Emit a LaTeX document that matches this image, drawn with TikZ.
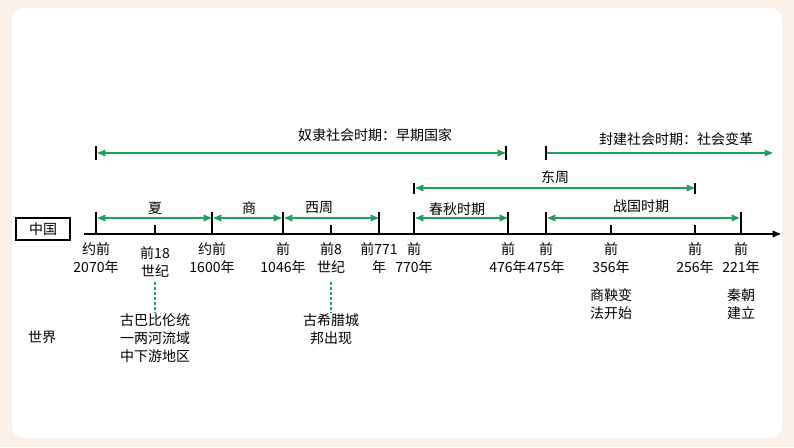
\documentclass[tikz,border=0pt]{standalone}
\usepackage{fontspec}
\setmainfont{Noto Sans CJK SC}
\usetikzlibrary{arrows}
\definecolor{bggray}{RGB}{250,240,232}
\definecolor{linegreen}{RGB}{30,160,90}
\begin{document}
\begin{tikzpicture}[x=1pt,y=-1pt,font=\fontsize{14}{18}\selectfont,
    span/.style={linegreen,line width=1.6pt,>=stealth',<->},
    tick/.style={line width=1.6pt},
    lbl/.style={align=center,inner sep=0pt}]
        % Frame
        \fill [bggray] (0,0) rectangle (794,447);
        \fill [white,rounded corners=12pt] (12,8) rectangle (782,438);

        % Axis
        \draw [tick,-stealth'] (84,234) -- (780,234);
        \foreach \x in {96,212,283,379,414,508,546,741}
            \draw [tick] (\x,212) -- (\x,234);
        \foreach \x in {155,331,611,695}
            \draw [tick] (\x,225) -- (\x,234);
        \node [draw,line width=1.4pt,minimum width=54pt,minimum height=22pt] (cn) at (43,229) {中国};
        \node (world) at (42,337) {世界};

        % Periods
        \draw [span] (98,218) -- (211,218);
        \draw [span] (214,218) -- (281,218);
        \draw [span] (285,218) -- (378,218);
        \draw [span] (416,218) -- (507,218);
        \draw [span] (548,218) -- (739,218);
        \node (xia) at (155,208) {夏};
        \node (shang) at (249,208) {商};
        \node (xizhou) at (319,208) {西周};
        \node (chunqiu) at (457,209) {春秋时期};
        \node (zhanguo) at (641,206) {战国时期};

        \draw [tick] (414,183) -- (414,194);
        \draw [tick] (695,183) -- (695,194);
        \draw [span] (416,188) -- (694,188);
        \node (dongzhou) at (555,177) {东周};

        \draw [tick] (96,146) -- (96,160);
        \draw [tick] (506,146) -- (506,160);
        \draw [tick] (546,146) -- (546,160);
        \draw [span] (98,153) -- (505,153);
        \draw [span,<-] (772,153) -- (547,153);
        \node (nuli) at (375,135) {奴隶社会时期：早期国家};
        \node (fengjian) at (676,139) {封建社会时期：社会变革};

        % Dates
        \node [lbl] (d1) at (96,258) {约前\\2070年};
        \node [lbl] (d2) at (155,262) {前18\\世纪};
        \node [lbl] (d3) at (212,258) {约前\\1600年};
        \node [lbl] (d4) at (283,258) {前\\1046年};
        \node [lbl] (d5) at (331,258) {前8\\世纪};
        \node [lbl] (d6) at (379,258) {前771\\年};
        \node [lbl] (d7) at (414,258) {前\\770年};
        \node [lbl] (d8) at (508,258) {前\\476年};
        \node [lbl] (d9) at (546,258) {前\\475年};
        \node [lbl] (d10) at (611,258) {前\\356年};
        \node [lbl] (d11) at (695,258) {前\\256年};
        \node [lbl] (d12) at (741,258) {前\\221年};

        % Events
        \node [lbl] (babylon) at (155,338) {古巴比伦统\\一两河流域\\中下游地区};
        \node [lbl] (greece) at (331,329) {古希腊城\\邦出现};
        \node [lbl] (shangyang) at (611,304) {商鞅变\\法开始};
        \node [lbl] (qin) at (741,304) {秦朝\\建立};
        \draw [linegreen,line width=1.2pt,dash pattern=on 3pt off 2pt] (155,282) -- (babylon.north);
        \draw [linegreen,line width=1.2pt,dash pattern=on 3pt off 2pt] (331,282) -- (greece.north);
\end{tikzpicture}
\end{document}
